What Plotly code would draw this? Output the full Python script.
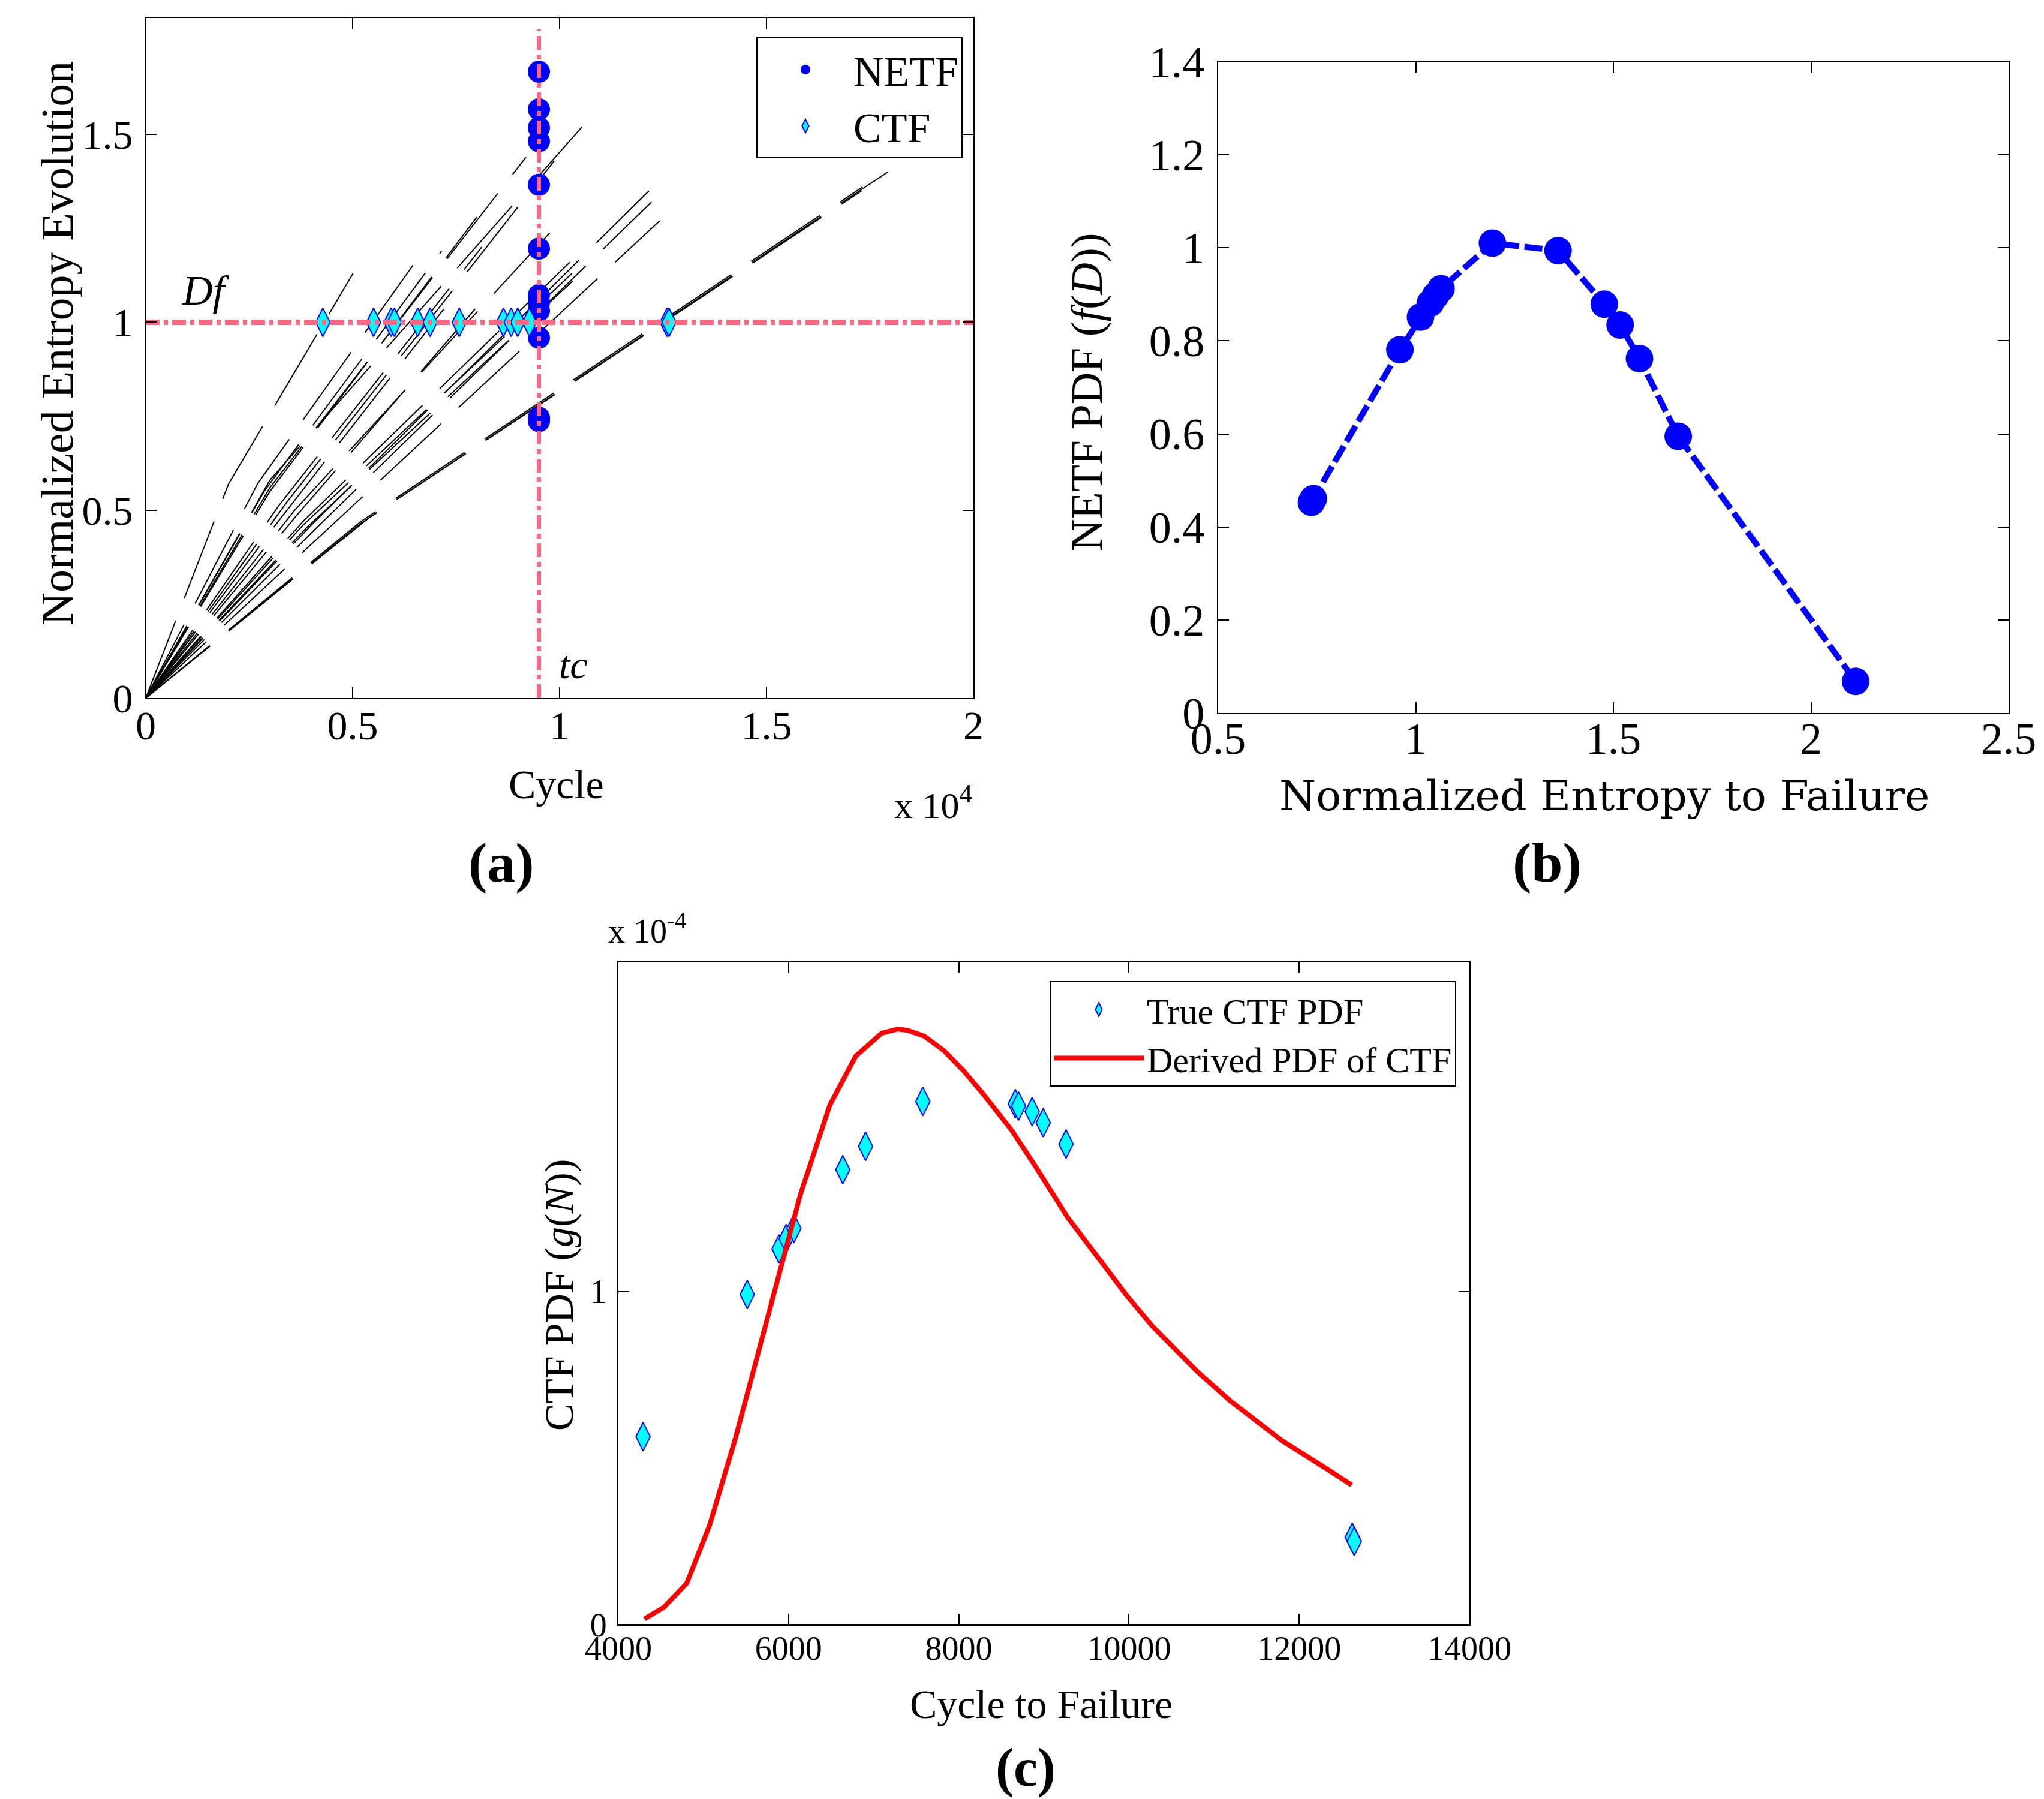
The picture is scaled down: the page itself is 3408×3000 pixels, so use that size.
import plotly.graph_objects as go

W, H = 3408, 3000

# ---- panel (a): normalized entropy evolution ----
# each curve: knots (cycle, normalized entropy)
evo_cycles = [
    [0, 2000, 5010], [0, 2700, 6770], [0, 2860, 7150], [0, 3000, 8000],
    [0, 3000, 9190], [0, 3200, 8120], [0, 3400, 9870], [0, 3000, 10540],
    [0, 3600, 9780], [0, 3200, 7200], [0, 3600, 8230], [0, 3800, 10250],
    [0, 3800, 10300], [0, 3900, 10320], [0, 4000, 12160], [0, 4100, 12220],
    [0, 4300, 12420], [0, 5200, 17320], [0, 5200, 17300], [0, 5400, 17930],
]
evo_values = [
    [0, 0.57, 1.13], [0, 0.57, 1.20], [0, 0.55, 1.19], [0, 0.55, 1.28],
    [0, 0.56, 1.44], [0, 0.51, 1.20], [0, 0.52, 1.43], [0, 0.58, 1.52],
    [0, 0.50, 1.24], [0, 0.47, 1.035], [0, 0.48, 1.07], [0, 0.47, 1.16],
    [0, 0.46, 1.13], [0, 0.455, 1.11], [0, 0.46, 1.35], [0, 0.45, 1.32],
    [0, 0.44, 1.27], [0, 0.47, 1.36], [0, 0.465, 1.35], [0, 0.48, 1.40],
]

tc = 9500          # critical cycle
df = 1.0           # normalized entropy at failure
netf_at_tc = [1.667, 1.567, 1.518, 1.482, 1.366, 1.196, 1.072, 1.053,
              1.031, 0.959, 0.746, 0.737]
ctf_cycles = [4282, 5506, 5929, 6008, 6573, 6871, 7576, 8643, 8831, 8988,
              9271, 12596, 12643]

# ---- panel (b): NETF PDF ----
netf = [0.736, 0.741, 0.960, 1.012, 1.037, 1.050, 1.064, 1.194, 1.360,
        1.477, 1.517, 1.566, 1.664, 2.113]
netf_pdf = [0.453, 0.461, 0.781, 0.851, 0.881, 0.897, 0.912, 1.010, 0.994,
            0.879, 0.834, 0.762, 0.595, 0.068]

# ---- panel (c): CTF PDF ----
ctf_true_x = [4290, 5514, 5888, 5972, 6064, 6638, 6905, 7578, 8664, 8702,
              8862, 8992, 9260, 12624, 12647]
ctf_true_pdf = [0.564, 0.991, 1.128, 1.159, 1.190, 1.366, 1.436, 1.571,
                1.564, 1.557, 1.540, 1.507, 1.443, 0.262, 0.250]
ctf_fit_x = [4306, 4535, 4803, 5070, 5376, 5682, 5911, 6141, 6485, 6790,
             7096, 7287, 7402, 7593, 7823, 8052, 8281, 8625, 8893, 9275,
             9657, 9963, 10269, 10804, 11187, 11798, 12333, 12616]
ctf_fit_pdf = [0.017, 0.052, 0.124, 0.297, 0.560, 0.853, 1.060, 1.293,
               1.560, 1.707, 1.776, 1.788, 1.784, 1.767, 1.724, 1.664,
               1.595, 1.483, 1.379, 1.224, 1.095, 0.991, 0.897, 0.759,
               0.672, 0.552, 0.466, 0.419]
scale_c = 1e-4

SERIF = "Liberation Serif"
PINK = "#ff6680"


def px_x(p):
    return p / W


def px_y(p):
    return 1 - p / H


fig = go.Figure()

# (a) entropy curves
for xs, ys in zip(evo_cycles, evo_values):
    fig.add_trace(go.Scatter(
        x=xs, y=ys, mode="lines", xaxis="x", yaxis="y", showlegend=False,
        line=dict(color="black", width=2, dash="138px,40px"),
        hoverinfo="skip"))

fig.add_trace(go.Scatter(
    x=[tc] * len(netf_at_tc), y=netf_at_tc, mode="markers", name="NETF",
    xaxis="x", yaxis="y", legend="legend",
    marker=dict(symbol="circle", size=37, color="#0000ff")))
fig.add_trace(go.Scatter(
    x=ctf_cycles, y=[df] * len(ctf_cycles), mode="markers", name="CTF",
    xaxis="x", yaxis="y", legend="legend",
    marker=dict(symbol="diamond-tall", size=34, color="#00ffff",
                line=dict(color="#0000ff", width=2))))

# Df and tc reference lines
fig.add_trace(go.Scatter(
    x=[0, 20000], y=[df, df], mode="lines", xaxis="x", yaxis="y",
    showlegend=False, line=dict(color=PINK, width=9, dash="23px,7px,7px,7px")))
fig.add_trace(go.Scatter(
    x=[tc, tc], y=[0, 1.78], mode="lines", xaxis="x", yaxis="y",
    showlegend=False, line=dict(color=PINK, width=7, dash="23px,8px,8px,8px")))

# (b)
fig.add_trace(go.Scatter(
    x=netf, y=netf_pdf, mode="lines+markers", xaxis="x2", yaxis="y2",
    showlegend=False,
    line=dict(color="#0000ff", width=10, dash="30px,9px"),
    marker=dict(symbol="circle", size=46, color="#0000ff")))

# (c)
fig.add_trace(go.Scatter(
    x=ctf_true_x, y=[v * scale_c for v in ctf_true_pdf], mode="markers",
    name="True CTF PDF", xaxis="x3", yaxis="y3", legend="legend2",
    marker=dict(symbol="diamond-tall", size=34, color="#00ffff",
                line=dict(color="#0000ff", width=2))))
fig.add_trace(go.Scatter(
    x=ctf_fit_x, y=[v * scale_c for v in ctf_fit_pdf], mode="lines",
    name="Derived PDF of CTF", xaxis="x3", yaxis="y3", legend="legend2",
    line=dict(color="#ff0000", width=8)))

axis_common = dict(
    showline=True, mirror="ticks", linecolor="black", linewidth=2,
    ticks="inside", ticklen=18, tickwidth=2, tickcolor="black",
    showgrid=False, zeroline=False, automargin=False,
)

fig.update_layout(
    template="none",
    width=W, height=H,
    margin=dict(l=0, r=0, t=0, b=0, pad=0),
    paper_bgcolor="white", plot_bgcolor="white",
    font=dict(family=SERIF, color="black", size=60),
    xaxis=dict(domain=[px_x(235), px_x(1615)], range=[0, 20000],
               tickvals=[0, 5000, 10000, 15000, 20000],
               ticktext=["0", "0.5", "1", "1.5", "2"],
               tickfont=dict(size=68), ticklabelstandoff=-15,
               anchor="y", **axis_common),
    yaxis=dict(domain=[px_y(1156), px_y(22)], range=[0, 1.81],
               tickvals=[0, 0.5, 1, 1.5], ticktext=["0", "0.5", "1", "1.5"],
               tickfont=dict(size=68), ticklabelstandoff=6,
               anchor="x", **axis_common),
    xaxis2=dict(domain=[px_x(2023), px_x(3341)], range=[0.5, 2.5],
                tickvals=[0.5, 1, 1.5, 2, 2.5],
                ticktext=["0.5", "1", "1.5", "2", "2.5"],
                tickfont=dict(size=74), ticklabelstandoff=-23,
                anchor="y2", **axis_common),
    yaxis2=dict(domain=[px_y(1181), px_y(95)], range=[0, 1.4],
                tickvals=[0, 0.2, 0.4, 0.6, 0.8, 1, 1.2, 1.4],
                ticktext=["0", "0.2", "0.4", "0.6", "0.8", "1", "1.2", "1.4"],
                tickfont=dict(size=74), ticklabelstandoff=6,
                anchor="x2", **axis_common),
    xaxis3=dict(domain=[px_x(1023), px_x(2442)], range=[4000, 14000],
                tickvals=[4000, 6000, 8000, 10000, 12000, 14000],
                ticktext=["4000", "6000", "8000", "10000", "12000", "14000"],
                tickfont=dict(size=56), ticklabelstandoff=-10,
                anchor="y3", **axis_common),
    yaxis3=dict(domain=[px_y(2701), px_y(1596)], range=[0, 1.99e-4],
                tickvals=[0, 1e-4], ticktext=["0", "1"],
                tickfont=dict(size=56), ticklabelstandoff=6,
                anchor="x3", **axis_common),
    legend=dict(x=px_x(1597), y=px_y(54), xanchor="right", yanchor="top",
                bgcolor="white", bordercolor="black", borderwidth=2,
                font=dict(size=70, family=SERIF), itemwidth=150),
    legend2=dict(x=px_x(2420), y=px_y(1628), xanchor="right", yanchor="top",
                 bgcolor="white", bordercolor="black", borderwidth=2,
                 font=dict(size=60, family=SERIF), itemwidth=150),
)

annotations = [
    # (a)
    dict(text="Cycle", x=px_x(919), y=px_y(1300), size=68),
    dict(text="Normalized Entropy Evolution", x=px_x(87), y=px_y(565),
         size=76, angle=-90),
    dict(text="x 10<sup>4</sup>", x=px_x(1548), y=px_y(1330), size=62),
    dict(text="<i>Df</i>", x=px_x(335), y=px_y(476), size=70),
    dict(text="<i>tc</i>", x=px_x(948), y=px_y(1100), size=66),
    dict(text="<b>(a)</b>", x=px_x(828), y=px_y(1430), size=94),
    # (b)
    dict(text="Normalized Entropy to Failure", x=px_x(2667), y=px_y(1319),
         size=70, family="DejaVu Serif"),
    dict(text="NETF PDF (<i>f</i>(<i>D</i>))", x=px_x(1804), y=px_y(646),
         size=74, angle=-90),
    dict(text="<b>(b)</b>", x=px_x(2571), y=px_y(1430), size=94),
    # (c)
    dict(text="Cycle to Failure", x=px_x(1728), y=px_y(2834), size=68),
    dict(text="CTF PDF (<i>g</i>(<i>N</i>))", x=px_x(924), y=px_y(2152),
         size=68, angle=-90),
    dict(text="x 10<sup>-4</sup>", x=px_x(1071), y=px_y(1540), size=56),
    dict(text="<b>(c)</b>", x=px_x(1702), y=px_y(2940), size=90),
]
for a in annotations:
    fig.add_annotation(
        text=a["text"], x=a["x"], y=a["y"], xref="paper", yref="paper",
        showarrow=False, textangle=a.get("angle", 0),
        font=dict(size=a["size"], family=a.get("family", SERIF),
                  color="black"),
        xanchor="center", yanchor="middle")

fig.write_html("out.html")
